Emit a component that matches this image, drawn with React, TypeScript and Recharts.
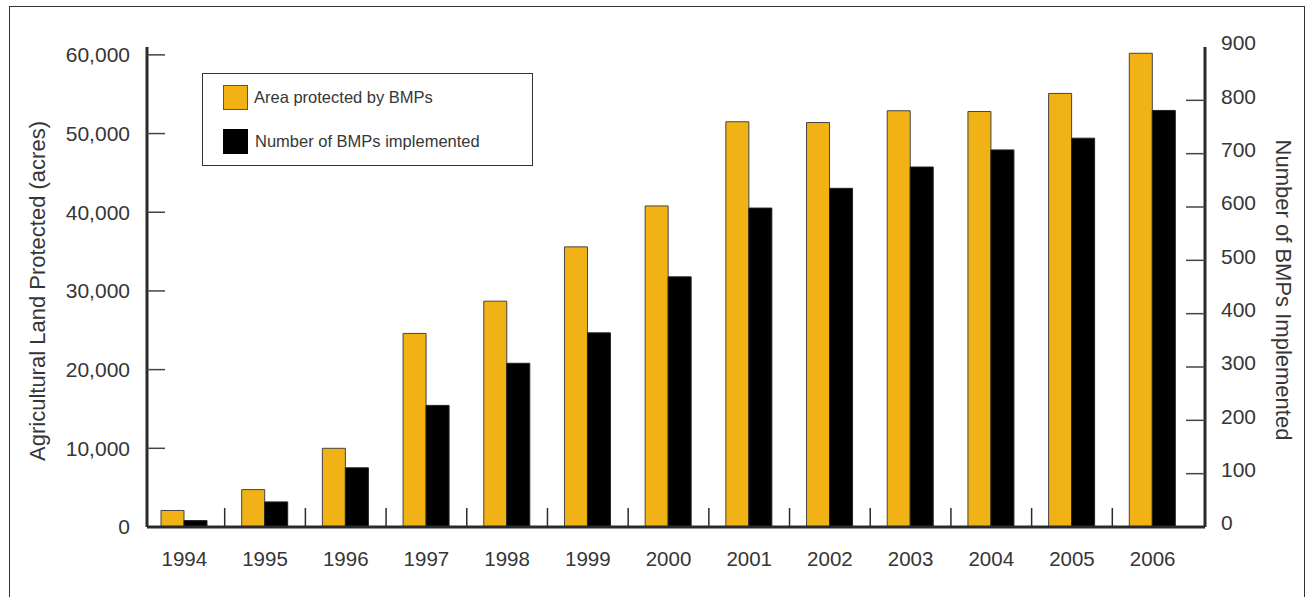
import React from "react";
import { BarChart, Bar, XAxis, YAxis } from "recharts";

const YEARS = ["1994", "1995", "1996", "1997", "1998", "1999", "2000", "2001", "2002", "2003", "2004", "2005", "2006"];
const AREA_ACRES = [2100, 4750, 10000, 24600, 28700, 35600, 40800, 51500, 51400, 52900, 52800, 55100, 60200];
const BMP_COUNT = [12, 47, 111, 228, 307, 364, 469, 598, 635, 675, 707, 729, 781];
const LEFT_TICKS = [0, 10000, 20000, 30000, 40000, 50000, 60000];
const RIGHT_TICKS = [0, 100, 200, 300, 400, 500, 600, 700, 800, 900];
const SERIES_NAMES = ["Area protected by BMPs", "Number of BMPs implemented"];

const data = YEARS.map((year, i) => ({ year, area: AREA_ACRES[i], bmps: BMP_COUNT[i] }));

const FONT = "'Liberation Sans', Arial, sans-serif";
const TEXT = "#363636";
const AXIS = "#2b2b2b";
const ORANGE = "#F0B214";
const PLOT_LEFT = 147;
const PLOT_RIGHT = 1205;
const PLOT_BOTTOM = 527;

function XTick(props: any) {
  const { x, payload, index } = props;
  const half = payload?.offset ?? 40.3;
  return (
    <g>
      <text x={x} y={559} dy="0.35em" textAnchor="middle" fontSize={20.5} fontFamily={FONT} fill={TEXT}>
        {payload.value}
      </text>
      {index < YEARS.length - 1 && (
        <line x1={x + half} x2={x + half} y1={PLOT_BOTTOM - 1} y2={PLOT_BOTTOM - 19} stroke={AXIS} strokeWidth={1.5} />
      )}
    </g>
  );
}

function LeftTick(props: any) {
  const { y, payload } = props;
  return (
    <g>
      <text x={130} y={y} dy="0.35em" textAnchor="end" fontSize={21} fontFamily={FONT} fill={TEXT}>
        {payload.value.toLocaleString("en-US")}
      </text>
      {payload.value > 0 && (
        <line x1={PLOT_LEFT} x2={PLOT_LEFT + 18} y1={y} y2={y} stroke="#444" strokeWidth={1.5} />
      )}
    </g>
  );
}

function RightTick(props: any) {
  const { y, payload } = props;
  return (
    <g>
      <text x={1221} y={y - 4} dy="0.35em" textAnchor="start" fontSize={21} fontFamily={FONT} fill={TEXT}>
        {payload.value}
      </text>
      {payload.value > 0 && payload.value < 900 && (
        <line x1={PLOT_RIGHT - 19} x2={PLOT_RIGHT} y1={y} y2={y} stroke="#444" strokeWidth={1.5} />
      )}
    </g>
  );
}

function LegendBox() {
  const row = { display: "flex", alignItems: "center", height: 26 } as const;
  return (
    <div
      style={{
        position: "absolute",
        left: 202,
        top: 73,
        width: 331,
        height: 93,
        boxSizing: "border-box",
        border: "1px solid #333",
        background: "#fff",
        fontFamily: FONT,
        fontSize: 16.5,
        color: TEXT,
        paddingLeft: 20,
        paddingTop: 10,
      }}
    >
      <div style={row}>
        <span style={{ width: 25, height: 25, boxSizing: "border-box", background: ORANGE, border: "1px solid #555", marginRight: 6 }} />
        <span>{SERIES_NAMES[0]}</span>
      </div>
      <div style={{ ...row, marginTop: 18 }}>
        <span style={{ width: 25, height: 25, background: "#000", marginRight: 7 }} />
        <span>{SERIES_NAMES[1]}</span>
      </div>
    </div>
  );
}

export default function App() {
  return (
    <div style={{ position: "absolute", left: 0, top: 0, width: 1307, height: 597, overflow: "hidden", background: "#fff" }}>
      <div
        style={{
          position: "absolute",
          left: 9,
          top: 6,
          width: 1296,
          height: 620,
          border: "1px solid #333",
          boxSizing: "border-box",
        }}
      />
      <div style={{ position: "absolute", left: 0, top: 0 }}>
        <BarChart
          width={1307}
          height={597}
          data={data}
          margin={{ top: 47, right: 42, bottom: 30, left: 87 }}
          barGap={0}
          barSize={23}
        >
          <XAxis
            dataKey="year"
            height={40}
            interval={0}
            padding={{ left: -3, right: 12 }}
            axisLine={{ stroke: AXIS, strokeWidth: 3 }}
            tickLine={false}
            tick={<XTick />}
          />
          <YAxis
            yAxisId="left"
            orientation="left"
            width={60}
            domain={[0, 61000]}
            ticks={LEFT_TICKS}
            interval={0}
            axisLine={{ stroke: AXIS, strokeWidth: 3 }}
            tickLine={false}
            tick={<LeftTick />}
            label={{
              content: () => (
                <text
                  x={37}
                  y={291}
                  transform="rotate(-90 37 291)"
                  textAnchor="middle"
                  dominantBaseline="central"
                  fontSize={22}
                  fontFamily={FONT}
                  fill={TEXT}
                >
                  Agricultural Land Protected (acres)
                </text>
              ),
            }}
          />
          <YAxis
            yAxisId="right"
            orientation="right"
            width={60}
            domain={[0, 900]}
            ticks={RIGHT_TICKS}
            interval={0}
            axisLine={{ stroke: AXIS, strokeWidth: 3 }}
            tickLine={false}
            tick={<RightTick />}
            label={{
              content: () => (
                <text
                  x={1283}
                  y={290}
                  transform="rotate(90 1283 290)"
                  textAnchor="middle"
                  dominantBaseline="central"
                  fontSize={22}
                  fontFamily={FONT}
                  fill={TEXT}
                >
                  Number of BMPs Implemented
                </text>
              ),
            }}
          />
          <Bar yAxisId="left" dataKey="area" name={SERIES_NAMES[0]} fill={ORANGE} stroke="#444" strokeWidth={1} isAnimationActive={false} />
          <Bar yAxisId="right" dataKey="bmps" name={SERIES_NAMES[1]} fill="#000" stroke="#222" strokeWidth={1} isAnimationActive={false} />
        </BarChart>
      </div>
      <LegendBox />
    </div>
  );
}
